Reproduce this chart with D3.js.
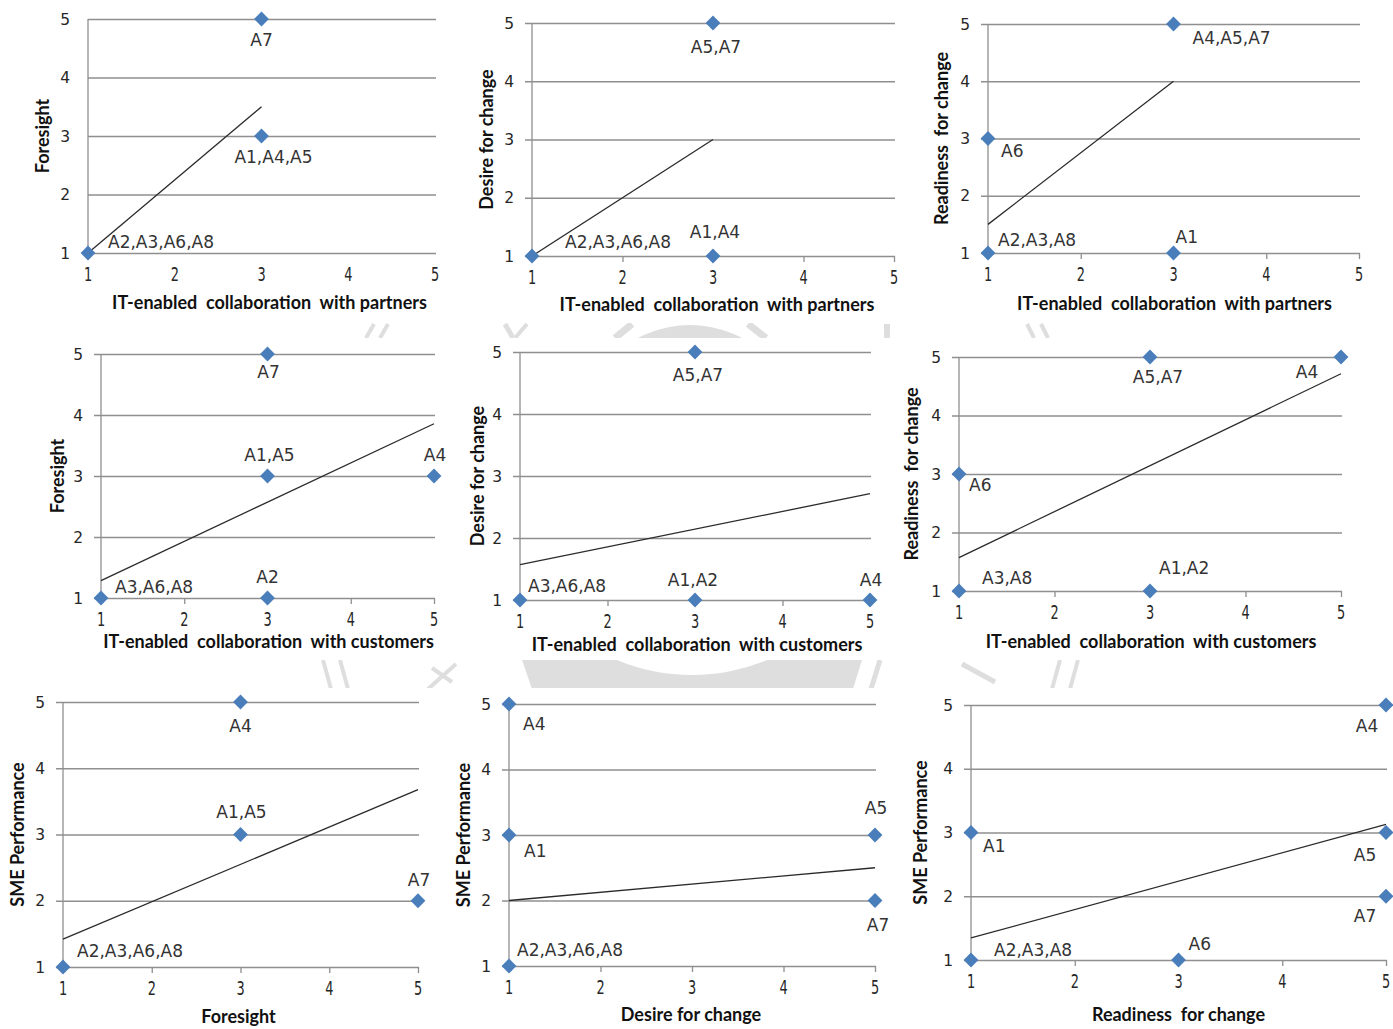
<!DOCTYPE html>
<html><head><meta charset="utf-8">
<script src="https://cdn.jsdelivr.net/npm/d3@7"></script>
<style>body{margin:0;background:#fff} svg{display:block}</style>
</head><body><svg id="c" width="1393" height="1029"></svg>
<script>
// ---------- DATA ----------
const xTitles = [
  "IT-enabled  collaboration  with partners",
  "IT-enabled  collaboration  with partners",
  "IT-enabled  collaboration  with partners",
  "IT-enabled  collaboration  with customers",
  "IT-enabled  collaboration  with customers",
  "IT-enabled  collaboration  with customers",
  "Foresight",
  "Desire for change",
  "Readiness  for change"
];
const yTitles = [
  "Foresight", "Desire for change", "Readiness  for change",
  "Foresight", "Desire for change", "Readiness  for change",
  "SME Performance", "SME Performance", "SME Performance"
];
const tickValues = [1, 2, 3, 4, 5];

const pointsX = [
  [3, 3, 1],
  [3, 1, 3],
  [3, 1, 1, 3],
  [3, 3, 5, 1, 3],
  [3, 1, 3, 5],
  [3, 5, 1, 1, 3],
  [3, 3, 5, 1],
  [1, 1, 5, 5, 1],
  [5, 1, 5, 5, 1, 3]
];
const pointsY = [
  [5, 3, 1],
  [5, 1, 1],
  [5, 3, 1, 1],
  [5, 3, 3, 1, 1],
  [5, 1, 1, 1],
  [5, 5, 3, 1, 1],
  [5, 3, 2, 1],
  [5, 3, 3, 2, 1],
  [5, 3, 3, 2, 1, 1]
];
const pointLabels = [
  ["A7", "A1,A4,A5", "A2,A3,A6,A8"],
  ["A5,A7", "A2,A3,A6,A8", "A1,A4"],
  ["A4,A5,A7", "A6", "A2,A3,A8", "A1"],
  ["A7", "A1,A5", "A4", "A3,A6,A8", "A2"],
  ["A5,A7", "A3,A6,A8", "A1,A2", "A4"],
  ["A5,A7", "A4", "A6", "A3,A8", "A1,A2"],
  ["A4", "A1,A5", "A7", "A2,A3,A6,A8"],
  ["A4", "A1", "A5", "A7", "A2,A3,A6,A8"],
  ["A4", "A1", "A5", "A7", "A2,A3,A8", "A6"]
];

// ---------- LAYOUT (positions / styles) ----------
const panels = [
  {xr:[88,435],  yr:[253,19],  tick:0, yTitleX:43,  xtDx:8,  xtDy:56},
  {xr:[532,894], yr:[256,23],  tick:7, yTitleX:487, xtDx:4,  xtDy:55},
  {xr:[988,1359],yr:[253,24],  tick:7, yTitleX:942, xtDx:1,  xtDy:57},
  {xr:[101,434], yr:[598,354], tick:7, yTitleX:58,  xtDx:1,  xtDy:50},
  {xr:[520,870], yr:[600,352], tick:7, yTitleX:478, xtDx:2,  xtDy:51},
  {xr:[959,1341],yr:[591,357], tick:7, yTitleX:912, xtDx:1,  xtDy:57},
  {xr:[63,418],  yr:[967,702], tick:7, yTitleX:18,  xtDx:-2, xtDy:56},
  {xr:[509,875], yr:[966,704], tick:7, yTitleX:464, xtDx:-1, xtDy:55},
  {xr:[971,1386],yr:[960,705], tick:7, yTitleX:921, xtDx:0,  xtDy:61}
];
// label offsets [dx, dy(baseline), anchor]
const labelOffsets = [
  [[0,27,"middle"],[12,27,"middle"],[20,-5,"start"]],
  [[3,30,"middle"],[33,-8,"start"],[2,-18,"middle"]],
  [[19,20,"start"],[13,18,"start"],[10,-7,"start"],[2,-10,"start"]],
  [[1,24,"middle"],[2,-15,"middle"],[1,-15,"middle"],[14,-5,"start"],[0,-15,"middle"]],
  [[3,29,"middle"],[8,-8,"start"],[-2,-14,"middle"],[1,-14,"middle"]],
  [[8,26,"middle"],[-34,21,"middle"],[10,17,"start"],[23,-7,"start"],[9,-17,"start"]],
  [[0,30,"middle"],[1,-17,"middle"],[1,-15,"middle"],[14,-10,"start"]],
  [[14,26,"start"],[15,22,"start"],[1,-21,"middle"],[3,30,"middle"],[8,-10,"start"]],
  [[-19,27,"middle"],[12,19,"start"],[-21,28,"middle"],[-21,26,"middle"],[23,-4,"start"],[10,-10,"start"]]
];

const GRID = "#8f8f8f", MARK = "#4a7ebb", TXT = "#262626";
const svg = d3.select("#c");
svg.append("rect").attr("width",1393).attr("height",1029).attr("fill","#fff");

// ---------- faint watermark visible between rows ----------
const wm = svg.append("g").attr("fill","#dedede").attr("stroke","#dedede");
const defs = svg.append("defs");
defs.append("clipPath").attr("id","band1").append("rect").attr("x",0).attr("y",323).attr("width",1393).attr("height",15);
defs.append("clipPath").attr("id","band2").append("rect").attr("x",0).attr("y",660).attr("width",1393).attr("height",28);
const b1 = wm.append("g").attr("clip-path","url(#band1)");
const b2 = wm.append("g").attr("clip-path","url(#band2)");
function stroke(g, x1,y1,x2,y2,w){ g.append("line").attr("x1",x1).attr("y1",y1).attr("x2",x2).attr("y2",y2).attr("stroke-width",w); }
stroke(b1,366,338,374,324,4); stroke(b1,380,338,388,324,4);
stroke(b1,505,324,513,338,5); stroke(b1,527,324,515,338,4);
stroke(b1,615,338,632,324,7);
b1.append("circle").attr("cx",690).attr("cy",436).attr("r",111).attr("stroke","none");
stroke(b1,748,324,766,338,7);
b1.append("rect").attr("x",884).attr("y",324).attr("width",6).attr("height",14).attr("stroke","none");
stroke(b1,1027,324,1034,338,4); stroke(b1,1041,324,1048,338,4);

stroke(b2,323,660,331,689,4); stroke(b2,340,660,348,689,4);
stroke(b2,428,689,456,664,4); stroke(b2,432,668,452,682,4);
b2.append("path").attr("stroke","none").attr("fill-rule","evenodd")
  .attr("d", "M522,660 L862,660 L853,689 L532,689 Z " +
    "M" + (692+195) + ",480 A195,195 0 1,1 " + (692-195) + ",480 A195,195 0 1,1 " + (692+195) + ",480 Z");
stroke(b2,880,660,871,689,5);
stroke(b2,962,664,995,682,5);
stroke(b2,1060,660,1052,689,4); stroke(b2,1078,660,1070,689,4);

// ---------- panels ----------
panels.forEach((p, i) => {
  const x = d3.scaleLinear().domain([1,5]).range(p.xr);
  const y = d3.scaleLinear().domain([1,5]).range(p.yr);
  const g = svg.append("g");

  // horizontal gridlines (y ticks) via axis
  const yAxis = d3.axisLeft(y).tickValues(tickValues).tickSize(-(p.xr[1]-p.xr[0]+1)).tickSizeOuter(0).tickFormat("");
  const ya = g.append("g").attr("transform",`translate(${p.xr[0]},0)`).call(yAxis);
  ya.select(".domain").remove();
  ya.selectAll(".tick line").attr("stroke",GRID).attr("stroke-width",1.3)
    .attr("x1",-p.tick);
  // y axis line
  g.append("line").attr("x1",p.xr[0]).attr("x2",p.xr[0]).attr("y1",y(5)).attr("y2",y(1))
    .attr("stroke",GRID).attr("stroke-width",1.3);
  // x tick marks
  const xAxis = d3.axisBottom(x).tickValues(tickValues).tickSize(p.tick ? 6 : 0).tickSizeOuter(0).tickFormat("");
  const xa = g.append("g").attr("transform",`translate(0,${y(1)})`).call(xAxis);
  xa.select(".domain").remove();
  xa.selectAll(".tick line").attr("stroke",GRID).attr("stroke-width",1.3);

  // y tick labels
  g.selectAll(".ytl").data(tickValues).join("text")
    .attr("x", p.xr[0]-18).attr("y", d => y(d)).attr("dy","0.36em")
    .attr("text-anchor","end").attr("font-family","DejaVu Sans").attr("font-size",15.5)
    .attr("fill",TXT).style("font-weight",500).text(d => d);
  // x tick labels (narrow)
  g.selectAll(".xtl").data(tickValues).join("text")
    .attr("transform", d => `translate(${x(d)},${y(1)+28}) scale(0.68,1)`)
    .attr("text-anchor","middle").attr("font-family","DejaVu Sans").attr("font-size",19)
    .attr("fill",TXT).text(d => d);

  // axis titles
  g.append("text").attr("x",(p.xr[0]+p.xr[1])/2 + p.xtDx).attr("y",y(1)+p.xtDy)
    .attr("text-anchor","middle").attr("font-family","Lato").attr("font-weight","bold")
    .attr("font-size",18).attr("fill","#111").style("white-space","pre").text(xTitles[i]);
  const cy = (p.yr[0]+p.yr[1])/2;
  g.append("text").attr("transform",`translate(${p.yTitleX},${cy}) rotate(-90)`).attr("dy","0.35em")
    .attr("text-anchor","middle").attr("font-family","Lato").attr("font-weight","bold")
    .attr("font-size",18).attr("fill","#111").style("white-space","pre").text(yTitles[i]);

  // points
  const pts = pointsX[i].map((v,j) => ({x:v, y:pointsY[i][j], label:pointLabels[i][j],
    n: pointLabels[i][j].split(",").length, off: labelOffsets[i][j]}));

  // linear trendline (least squares, each agent weighted)
  let sw=0,sx=0,sy=0;
  pts.forEach(d => { sw+=d.n; sx+=d.n*d.x; sy+=d.n*d.y; });
  const mx=sx/sw, my=sy/sw;
  let sxy=0,sxx=0;
  pts.forEach(d => { sxy+=d.n*(d.x-mx)*(d.y-my); sxx+=d.n*(d.x-mx)*(d.x-mx); });
  const slope=sxy/sxx, icpt=my-slope*mx;
  const xmin=d3.min(pts,d=>d.x), xmax=d3.max(pts,d=>d.x);
  g.append("path").datum([xmin,xmax])
    .attr("d", d3.line().x(d=>x(d)).y(d=>y(icpt+slope*d)))
    .attr("stroke","#2b2b2b").attr("stroke-width",1.3).attr("fill","none");

  // diamond markers
  g.selectAll(".pt").data(pts).join("path")
    .attr("transform", d => `translate(${x(d.x)},${y(d.y)})`)
    .attr("d", d3.symbol().type(d3.symbolDiamond2).size(140))
    .attr("fill", MARK);

  // labels
  g.selectAll(".lb").data(pts).join("text")
    .attr("x", d => x(d.x)+d.off[0]).attr("y", d => y(d.y)+d.off[1])
    .attr("text-anchor", d => d.off[2])
    .attr("font-family","DejaVu Sans").attr("font-size",17).attr("fill","#333")
    .text(d => d.label);
});
</script></body></html>
